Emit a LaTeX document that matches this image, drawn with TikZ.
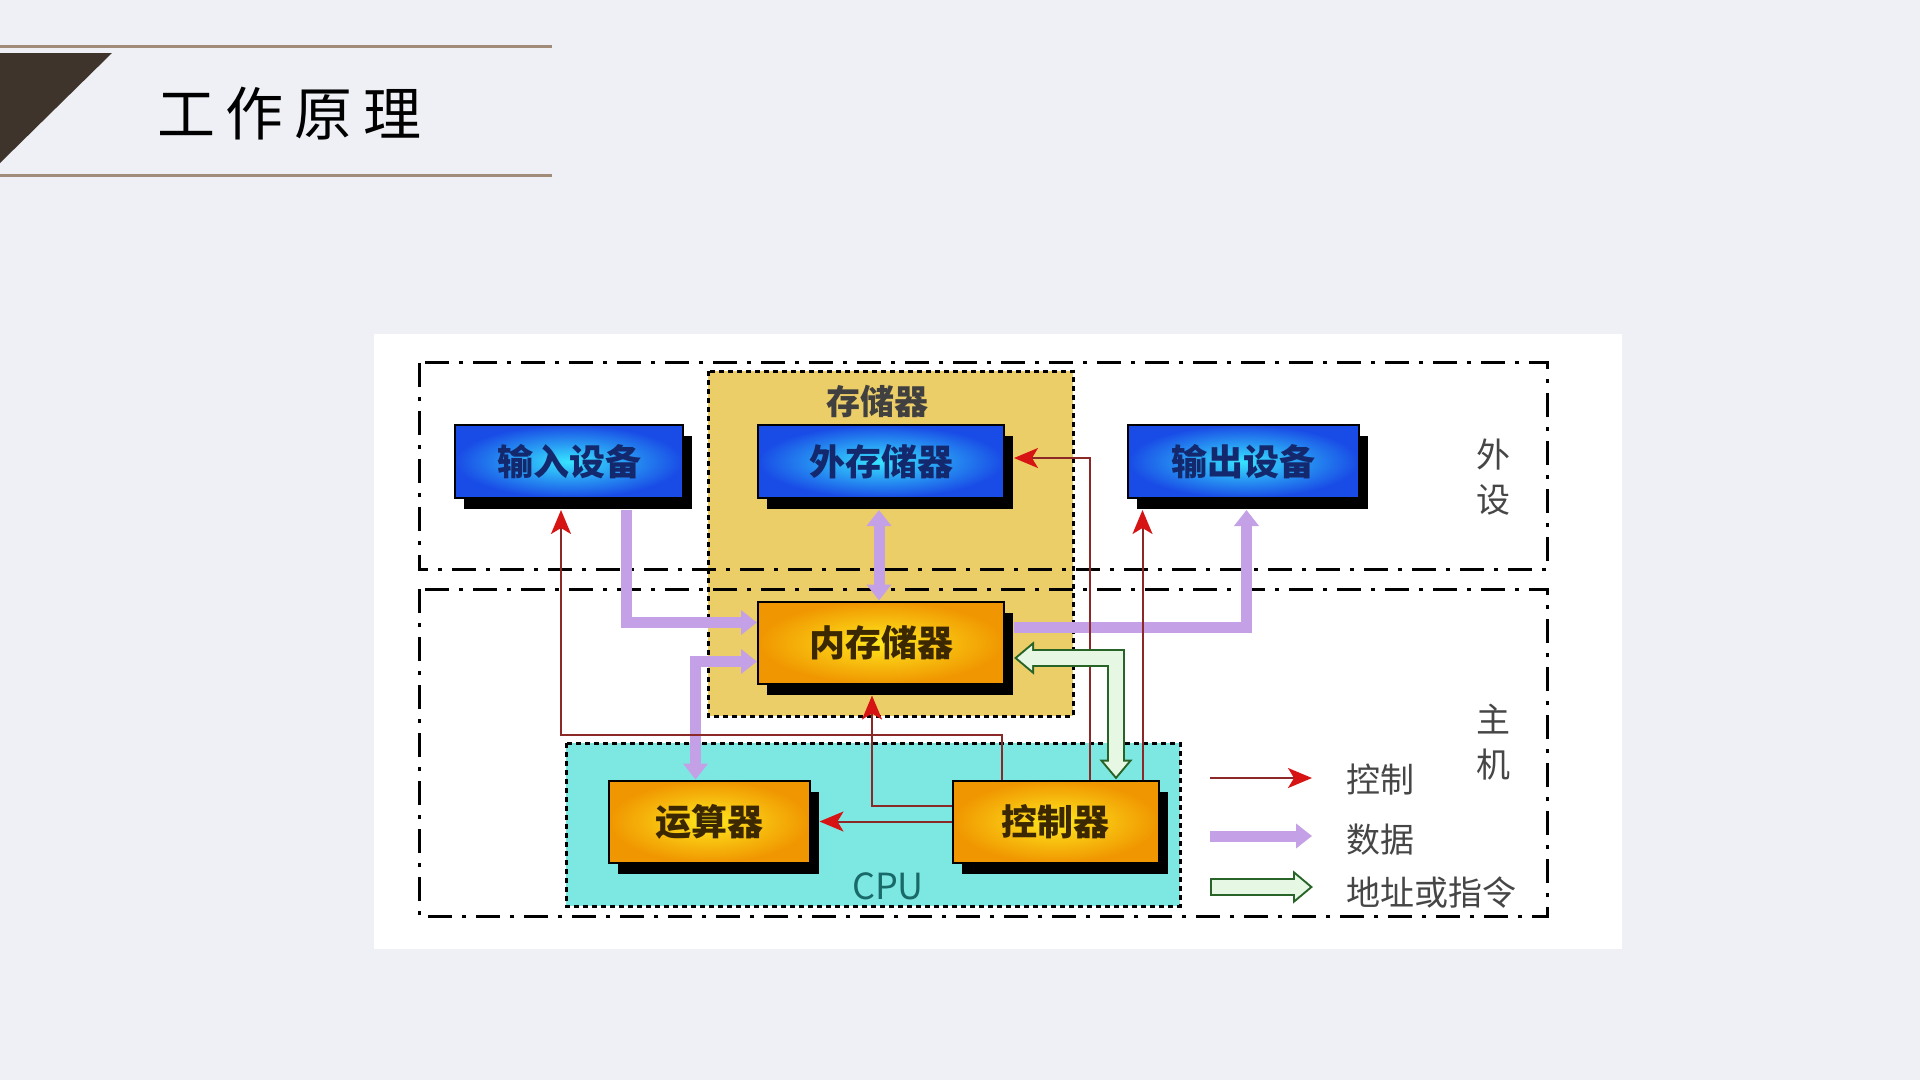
\documentclass[tikz,border=0pt]{standalone}
\usepackage{fontspec}
\setmainfont{Noto Sans CJK SC}
\usetikzlibrary{arrows.meta,shadows}
\definecolor{pagebg}{RGB}{238,240,245}
\definecolor{rulec}{RGB}{160,140,120}
\definecolor{wedgec}{RGB}{62,52,44}
\definecolor{memfill}{RGB}{236,206,104}
\definecolor{cpufill}{RGB}{125,232,226}
\definecolor{datac}{RGB}{196,160,230}
\definecolor{ctlline}{RGB}{140,40,40}
\definecolor{ctltip}{RGB}{215,20,20}
\definecolor{addrc}{RGB}{40,100,40}
\definecolor{addrfill}{RGB}{230,247,228}
\definecolor{devouter}{RGB}{25,75,230}
\definecolor{devinner}{RGB}{55,228,255}
\definecolor{devtext}{RGB}{20,40,110}
\definecolor{unitouter}{RGB}{240,150,0}
\definecolor{unitinner}{RGB}{255,232,30}
\definecolor{unittext}{RGB}{60,40,0}
\definecolor{cputext}{RGB}{25,105,105}
\definecolor{labelc}{RGB}{70,70,70}
\newcommand{\fsize}[1]{\fontsize{#1}{#1}\selectfont}

\begin{document}
\begin{tikzpicture}[x=1pt,y=-1pt,
  devbox/.style={draw=black,line width=2pt,inner color=devinner,outer color=devouter,
    minimum height=73pt,text=devtext,font=\fsize{36}\bfseries,
    drop shadow={shadow xshift=9pt,shadow yshift=-11pt,opacity=1,fill=black}},
  unitbox/.style={draw=black,line width=2pt,inner color=unitinner,outer color=unitouter,
    minimum height=82pt,text=unittext,font=\fsize{36}\bfseries,
    drop shadow={shadow xshift=9pt,shadow yshift=-11pt,opacity=1,fill=black}},
  dashdot/.style={draw=black,line width=3pt,dash pattern=on 24pt off 10pt on 4pt off 10pt},
  dotline/.style={draw=black,line width=3pt,dash pattern=on 5pt off 4pt},
  ctrl/.style={draw=ctlline,line width=2pt,-{Stealth[color=ctltip,length=24pt,width=20pt,inset=6pt]}},
  data/.style={draw=datac,line width=11pt},
  datatip/.style={-{Triangle[length=16pt,width=24pt]}},
  datatips/.style={{Triangle[length=16pt,width=24pt]}-{Triangle[length=16pt,width=24pt]}},
  addr/.style={draw=addrc,line width=18pt,
    {Triangle[length=20pt,width=32pt]}-{Triangle[length=20pt,width=32pt]},
    postaction={draw=addrfill,line width=14pt,shorten >=3.2pt,shorten <=3.2pt,
      {Triangle[length=14.8pt,width=23.7pt]}-{Triangle[length=14.8pt,width=23.7pt]}}},
  addrone/.style={draw=addrc,line width=18pt,-{Triangle[length=20pt,width=32pt]},
    postaction={draw=addrfill,line width=14pt,shorten >=3.2pt,shorten <=2pt,
      -{Triangle[length=14.8pt,width=23.7pt]}}},
  legend/.style={anchor=west,text=labelc,font=\fsize{34}},
  side/.style={text=labelc,align=center,font=\fontsize{34}{45}\selectfont}]
\useasboundingbox (0,0) rectangle (1920,1080);
\fill[pagebg] (0,0) rectangle (1920,1080);
% title bar
\draw[rulec,line width=3pt] (0,46.5) -- (552,46.5);
\draw[rulec,line width=3pt] (0,175) -- (552,175);
\fill[wedgec] (0,53) -- (112,53) -- (0,163) -- cycle;
\node (title) at (289.5,114) {\fsize{58}工\hspace{11pt}作\hspace{11pt}原\hspace{11pt}理};
% panel and regions
\fill[white] (373.5,334) rectangle (1622,949);
\fill[memfill] (708,371) rectangle (1073,716);
\draw[dotline] (708,371) rectangle (1073,716);
\fill[cpufill] (566,743) rectangle (1180,906);
\draw[dotline] (566,743) rectangle (1180,906);
\draw[dashdot] (419,362.5) rectangle (1547,569.5);
\draw[dashdot] (419,589) rectangle (1547,916);
\node[font=\fsize{34}\bfseries,text=black!75] (storlbl) at (877,401) {存储器};
\node[side] (peri) at (1493,477.5) {外\\设};
\node[side] (host) at (1493,742) {主\\机};
\node[text=cputext,font=\fsize{36}] (cpulbl) at (888,886) {CPU};
% units
\node[devbox,minimum width=228pt] (inp) at (569,461.5) {输入设备};
\node[devbox,minimum width=246pt] (ext) at (881,461.5) {外存储器};
\node[devbox,minimum width=231pt] (outp) at (1243.5,461.5) {输出设备};
\node[unitbox,minimum width=246pt] (mem) at (881,642.5) {内存储器};
\node[unitbox,minimum width=201pt] (alu) at (709,821.5) {运算器};
\node[unitbox,minimum width=206pt] (ctl) at (1055.5,821.5) {控制器};
% data paths
\draw[data,datatip] ([xshift=57pt,yshift=-11pt]inp.south) |- ([yshift=20pt]mem.west);
\draw[data,datatips] ([xshift=-13.5pt]alu.north) |- ([yshift=-19pt]mem.west);
\draw[data,datatips] ([xshift=-2pt,yshift=-11pt]ext.south) -- ([xshift=-2pt]mem.north);
\draw[data,datatip] ([xshift=9pt,yshift=15.5pt]mem.east) -| ([xshift=3pt,yshift=-11pt]outp.south);
% control paths
\draw[ctrl] ([xshift=-54pt]ctl.north) -- ++(0,-45) -| ([xshift=-8pt,yshift=-11pt]inp.south);
\draw[ctrl] ([yshift=16pt]ctl.west) -| ([xshift=-9pt,yshift=-11pt]mem.south);
\draw[ctrl] (ctl.west) -- ([xshift=9pt]alu.east);
\draw[ctrl] ([xshift=34pt]ctl.north) |- ([xshift=9pt,yshift=3.5pt]ext.east);
\draw[ctrl] ([xshift=87pt]ctl.north) -- ([xshift=-101pt,yshift=-11pt]outp.south);
% address / instruction
\draw[addr] ([xshift=9pt,yshift=-15.5pt]mem.east) -| ([xshift=60.5pt]ctl.north);
% legend
\coordinate (lgc0) at (1210,778); \coordinate (lgc1) at (1312,778);
\coordinate (lgd0) at (1210,836); \coordinate (lgd1) at (1312,836);
\coordinate (lga0) at (1210,887); \coordinate (lga1) at (1313,887);
\draw[ctrl] (lgc0) -- (lgc1);
\draw[data,datatip] (lgd0) -- (lgd1);
\draw[addrone] (lga0) -- (lga1);
\node[legend] (lgctl) at (1343,780) {控制};
\node[legend] (lgdat) at (1343,840) {数据};
\node[legend] (lgadr) at (1343,893) {地址或指令};
\end{tikzpicture}
\end{document}
